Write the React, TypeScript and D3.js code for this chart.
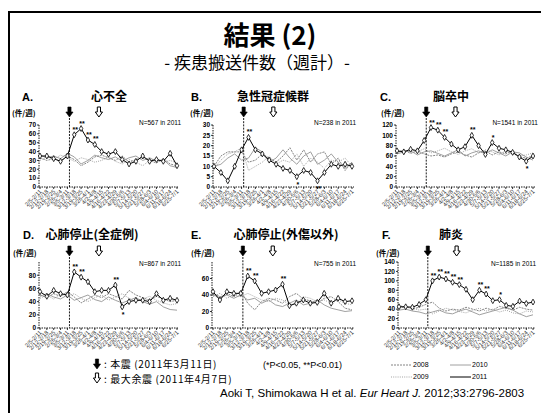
import React from 'react';
import * as d3 from 'd3';

// ---------- data ----------
const weekLabels = [
  '2/5-2/11', '2/12-2/18', '2/19-2/25', '2/26-3/4', '3/5-3/11', '3/12-3/18', '3/19-3/25',
  '3/26-4/1', '4/2-4/8', '4/9-4/15', '4/16-4/22', '4/23-4/29', '4/30-5/6', '5/7-5/13',
  '5/14-5/20', '5/21-5/27', '5/28-6/3', '6/4-6/10', '6/11-6/17', '6/18-6/24', '6/25-7/1',
];
const mainShockPos = 4.3;
const aftershockPos = 8.6;
const years = ['2008', '2009', '2010', '2011'];

// A. 心不全
const hf2008 = [33, 30, 32, 29, 35, 31, 24, 28, 34, 36, 33, 30, 35, 28, 31, 33, 30, 27, 32, 26, 24];
const hf2009 = [30, 34, 31, 36, 33, 29, 33, 31, 28, 30, 34, 29, 26, 31, 28, 24, 30, 32, 28, 30, 27];
const hf2010 = [36, 33, 35, 32, 38, 34, 26, 30, 36, 33, 31, 34, 29, 33, 35, 30, 33, 29, 31, 24, 22];
const hf2011 = [35, 35, 32, 29, 35, 59, 66, 53, 48, 40, 37, 40, 31, 26, 29, 35, 29, 31, 29, 38, 24];
const hfSig = [{ i: 5, m: '**' }, { i: 6, m: '**' }, { i: 7, m: '**' }, { i: 8, m: '**' }];

// B. 急性冠症候群
const acs2008 = [10, 15, 17, 17, 17, 12, 13, 16, 14, 12, 15, 19, 13, 18, 12, 16, 17, 11, 14, 8, 12];
const acs2009 = [9, 13, 16, 17, 19, 8, 10, 12, 15, 11, 13, 12, 16, 10, 14, 12, 9, 13, 12, 14, 10];
const acs2010 = [10, 11, 14, 16, 13, 14, 19, 17, 12, 14, 18, 14, 11, 15, 17, 11, 13, 16, 12, 9, 12];
const acs2011 = [10, 7, 3, 10, 18, 24, 18, 16, 13, 11, 9, 8, 5, 8, 7, 3, 7, 11, 10, 11, 10];
const acsSig = [{ i: 5, m: '**' }, { i: 12, m: '*', below: true }, { i: 15, m: '**', below: true }];

// C. 脳卒中
const st2008 = [67, 72, 65, 70, 64, 60, 62, 58, 64, 68, 62, 58, 66, 70, 62, 68, 64, 70, 58, 56, 60];
const st2009 = [70, 65, 72, 68, 74, 66, 70, 75, 68, 63, 70, 74, 66, 72, 68, 62, 70, 64, 60, 62, 66];
const st2010 = [64, 68, 70, 62, 68, 70, 65, 60, 66, 72, 60, 66, 70, 64, 72, 66, 60, 68, 66, 58, 52];
const st2011 = [70, 68, 73, 70, 90, 115, 110, 96, 83, 72, 78, 100, 80, 63, 86, 75, 72, 67, 58, 50, 60];
const stSig = [{ i: 5, m: '**' }, { i: 6, m: '**' }, { i: 7, m: '**' }, { i: 11, m: '**' }, { i: 14, m: '*' }, { i: 19, m: '*', below: true }];

// D. 心肺停止(全症例)
const cpa2008 = [50, 46, 52, 48, 55, 47, 38, 44, 50, 46, 52, 48, 44, 57, 50, 46, 42, 48, 44, 40, 42];
const cpa2009 = [45, 50, 44, 52, 48, 52, 45, 40, 46, 50, 42, 47, 52, 45, 40, 44, 48, 42, 38, 35, 37];
const cpa2010 = [48, 52, 47, 44, 50, 42, 46, 50, 43, 40, 47, 42, 38, 42, 46, 40, 36, 40, 32, 28, 27];
const cpa2011 = [55, 48, 57, 52, 50, 85, 77, 70, 55, 57, 57, 65, 32, 40, 42, 42, 40, 52, 42, 45, 42];
const cpaSig = [{ i: 5, m: '**' }, { i: 6, m: '**' }, { i: 11, m: '**' }, { i: 12, m: '*', below: true }];

// E. 心肺停止(外傷以外)
const nt2008 = [40, 36, 42, 38, 45, 30, 22, 32, 36, 34, 30, 38, 42, 35, 33, 30, 36, 38, 32, 24, 22];
const nt2009 = [38, 42, 36, 40, 38, 42, 38, 34, 32, 36, 34, 28, 30, 38, 36, 32, 34, 30, 34, 30, 28];
const nt2010 = [42, 38, 40, 36, 40, 34, 36, 30, 34, 28, 26, 30, 34, 28, 30, 34, 28, 24, 22, 20, 21];
const nt2011 = [44, 34, 44, 42, 42, 63, 57, 42, 44, 46, 53, 27, 30, 34, 30, 31, 42, 30, 36, 32, 33];
const ntSig = [{ i: 5, m: '**' }, { i: 6, m: '**' }, { i: 10, m: '**' }];

// F. 肺炎
const pn2008 = [42, 46, 40, 44, 50, 55, 42, 36, 40, 38, 44, 40, 36, 42, 38, 46, 42, 38, 44, 40, 38];
const pn2009 = [48, 44, 42, 38, 40, 30, 36, 42, 38, 35, 32, 38, 42, 36, 40, 34, 38, 32, 30, 36, 34];
const pn2010 = [38, 40, 36, 34, 30, 34, 38, 32, 30, 36, 40, 34, 28, 32, 36, 40, 44, 38, 30, 24, 28];
const pn2011 = [45, 45, 44, 50, 60, 100, 108, 104, 97, 92, 82, 60, 80, 72, 58, 60, 48, 46, 57, 52, 55];
const pnSig = [{ i: 5, m: '**' }, { i: 6, m: '**' }, { i: 7, m: '**' }, { i: 8, m: '**' }, { i: 9, m: '**' }, { i: 12, m: '**' }, { i: 13, m: '**' }, { i: 15, m: '*' }];

const panelLetters = ['A.', 'B.', 'C.', 'D.', 'E.', 'F.'];
const panelTitles = ['心不全', '急性冠症候群', '脳卒中', '心肺停止(全症例)', '心肺停止(外傷以外)', '肺炎'];
const panelN = ['N=567 in 2011', 'N=238 in 2011', 'N=1541 in 2011', 'N=867 in 2011', 'N=755 in 2011', 'N=1185 in 2011'];
const yMaxes = [70, 30, 120, 100, 80, 140];
const yTickSets = [
  [0, 10, 20, 30, 40, 50, 60, 70],
  [0, 5, 10, 15, 20, 25, 30],
  [0, 20, 40, 60, 80, 100, 120],
  [0, 20, 40, 60, 80],
  [0, 20, 40, 60],
  [0, 20, 40, 60, 80, 100, 120, 140],
];

const panelData = [
  { series: [hf2008, hf2009, hf2010, hf2011], sig: hfSig },
  { series: [acs2008, acs2009, acs2010, acs2011], sig: acsSig },
  { series: [st2008, st2009, st2010, st2011], sig: stSig },
  { series: [cpa2008, cpa2009, cpa2010, cpa2011], sig: cpaSig },
  { series: [nt2008, nt2009, nt2010, nt2011], sig: ntSig },
  { series: [pn2008, pn2009, pn2010, pn2011], sig: pnSig },
];

// ---------- layout / styles ----------
const layout = [
  { x0: 39, x1: 177, row: 0, letterX: 22, titleCx: 109, unitX: 12, right: 181 },
  { x0: 213, x1: 352, row: 0, letterX: 191, titleCx: 273, unitX: 190, right: 356 },
  { x0: 396, x1: 533, row: 0, letterX: 380, titleCx: 451, unitX: 381, right: 538 },
  { x0: 39, x1: 177, row: 1, letterX: 23, titleCx: 92, unitX: 13, right: 181 },
  { x0: 212, x1: 352, row: 1, letterX: 191, titleCx: 286, unitX: 191, right: 356 },
  { x0: 398, x1: 533, row: 1, letterX: 382, titleCx: 451, unitX: 376, right: 536 },
];
const rows = [
  { titleY: 101, arrowY: 107, unitY: 116, nY: 125, yTop: 125, yBot: 187 },
  { titleY: 239, arrowY: 246, unitY: 256, nY: 266, yTop: 262, yBot: 328 },
];
const seriesStyle = [
  { stroke: '#777', width: 0.9, dash: '2,1' },
  { stroke: '#999', width: 0.9, dash: '1,1.2' },
  { stroke: '#888', width: 0.8, dash: '' },
  { stroke: '#000', width: 1, dash: '' },
];

const JP = '"Noto Sans CJK JP", "Noto Sans", sans-serif';
const SANS = '"Liberation Sans", Arial, sans-serif';

function Arrow({ x, y, filled }: { x: number; y: number; filled: boolean }) {
  const p = `M${x - 1.6},${y} L${x + 1.6},${y} L${x + 1.6},${y + 5} L${x + 3.6},${y + 5} L${x},${y + 10} L${x - 3.6},${y + 5} L${x - 1.6},${y + 5} Z`;
  return <path d={p} fill={filled ? '#000' : '#fff'} stroke="#000" strokeWidth={filled ? 0.6 : 1} />;
}

function Panel({ idx }: { idx: number }) {
  const L = layout[idx];
  const R = rows[L.row];
  const { series, sig } = panelData[idx];
  const x = d3.scaleLinear().domain([0, weekLabels.length - 1]).range([L.x0 + 1, L.x1]);
  const y = d3.scaleLinear().domain([0, yMaxes[idx]]).range([R.yBot, R.yTop]);
  const line = d3.line<number>().x((_, i) => x(i)).y((d) => y(d));
  const diamond = d3.symbol().type(d3.symbolDiamond).size(10)()!;
  const s2011 = series[3];
  return (
    <g>
      <text x={L.letterX} y={R.titleY} fontFamily={SANS} fontWeight="bold" fontSize={11}>{panelLetters[idx]}</text>
      <text x={L.titleCx} y={R.titleY} textAnchor="middle" fontFamily={JP} fontWeight="bold" fontSize={12}>{panelTitles[idx]}</text>
      <text x={L.unitX} y={R.unitY} fontFamily={JP} fontWeight="bold" fontSize={7.5}>(件/週)</text>
      <Arrow x={x(mainShockPos)} y={R.arrowY} filled={true} />
      <Arrow x={x(aftershockPos)} y={R.arrowY} filled={false} />
      <text x={L.right} y={R.nY} textAnchor="end" fontFamily={SANS} fontSize={6.5}>{panelN[idx]}</text>
      {/* axes */}
      <line x1={L.x0} x2={L.x0} y1={R.yTop} y2={R.yBot} stroke="#000" strokeWidth={0.9} strokeDasharray="1.5,1" />
      <line x1={L.x0} x2={L.x1 + 2} y1={R.yBot} y2={R.yBot} stroke="#000" strokeWidth={0.9} strokeDasharray="1.5,1" />
      {yTickSets[idx].map((t) => (
        <g key={t}>
          <line x1={L.x0 - 2} x2={L.x0} y1={y(t)} y2={y(t)} stroke="#000" strokeWidth={0.8} />
          <text x={L.x0 - 3} y={y(t) + 2.3} textAnchor="end" fontFamily={SANS} fontSize={6.5} fontWeight="bold">{t}</text>
        </g>
      ))}
      {weekLabels.map((w, i) => (
        <g key={w}>
          <line x1={x(i)} x2={x(i)} y1={R.yBot} y2={R.yBot + 2} stroke="#000" strokeWidth={0.8} />
          <text transform={`translate(${x(i) + 2},${R.yBot + 5}) rotate(-45)`} textAnchor="end" fontFamily={SANS} fontSize={5.8} fill="#333">{w}</text>
        </g>
      ))}
      {/* main shock line */}
      <line x1={x(mainShockPos)} x2={x(mainShockPos)} y1={R.arrowY + 11} y2={R.yBot} stroke="#000" strokeWidth={0.9} strokeDasharray="2,1.2" />
      {/* series */}
      {series.map((s, k) => (
        <path key={years[k]} d={line(s)!} fill="none" stroke={seriesStyle[k].stroke} strokeWidth={seriesStyle[k].width} strokeDasharray={seriesStyle[k].dash} />
      ))}
      {s2011.map((v, i) => (
        <path key={i} d={diamond} transform={`translate(${x(i)},${y(v)})`} fill="#fff" stroke="#000" strokeWidth={0.8} />
      ))}
      {sig.map((s: any) => (
        <text key={s.i} x={x(s.i) + 1} y={s.below ? y(s2011[s.i]) + 10 : y(s2011[s.i]) - 3} textAnchor="middle" fontFamily={SANS} fontSize={7} fontWeight="bold">{s.m}</text>
      ))}
    </g>
  );
}

export default function App() {
  return (
    <svg width={541} height={413} style={{ position: 'absolute', left: 0, top: 0, background: '#fff' }}>
      <rect x={0} y={0} width={541} height={413} fill="#fff" />
      <line x1={9} x2={541} y1={12} y2={12} stroke="#000" strokeWidth={2} />
      <line x1={9} x2={9} y1={11} y2={413} stroke="#000" strokeWidth={2} />
      <text x={270} y={45} textAnchor="middle" fontFamily={JP} fontWeight="bold" fontSize={26}>結果 (2)</text>
      <text x={257} y={69} textAnchor="middle" fontFamily={JP} fontSize={17}>- 疾患搬送件数（週計）-</text>
      {layout.map((_, i) => <Panel key={i} idx={i} />)}
      {/* legend */}
      <Arrow x={97} y={359} filled={true} />
      <text x={104} y={368} fontFamily={JP} fontSize={10} letterSpacing={0.6}>: 本震 (2011年3月11日)</text>
      <Arrow x={97} y={373} filled={false} />
      <text x={104} y={383} fontFamily={JP} fontSize={10} letterSpacing={0.6}>: 最大余震 (2011年4月7日)</text>
      <text x={263} y={368} fontFamily={SANS} fontSize={9}>(*P&lt;0.05, **P&lt;0.01)</text>
      {[0, 1, 2, 3].map((k) => {
        const lx = k < 2 ? 391 : 450;
        const ly = k % 2 === 0 ? 365 : 377;
        const yi = k < 2 ? (k === 0 ? 0 : 1) : (k === 2 ? 2 : 3);
        return (
          <g key={k}>
            <line x1={lx} x2={lx + 21} y1={ly} y2={ly} stroke={seriesStyle[yi].stroke} strokeWidth={seriesStyle[yi].width} strokeDasharray={seriesStyle[yi].dash} />
            <text x={lx + 22} y={ly + 2.3} fontFamily={SANS} fontSize={7}>{years[yi]}</text>
          </g>
        );
      })}
      <text x={220} y={397} fontFamily={SANS} fontSize={11.5}>
        Aoki T, Shimokawa H et al. <tspan fontStyle="italic">Eur Heart J.</tspan> 2012;33:2796-2803
      </text>
    </svg>
  );
}
